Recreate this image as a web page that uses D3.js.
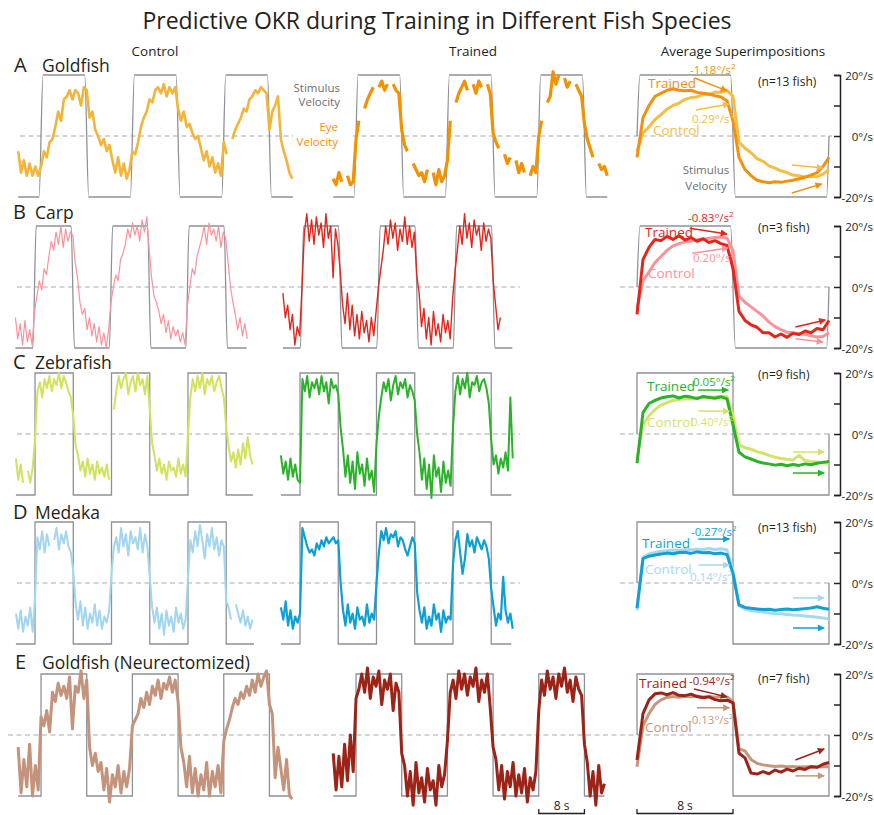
<!DOCTYPE html>
<html>
<head>
<meta charset="utf-8">
<script src="https://cdn.jsdelivr.net/npm/d3@7"></script>
<style>
body { margin: 0; background: #fff; }
svg { display: block; }
text { font-family: "Open Sans", sans-serif; fill: #231f20; }
</style>
</head>
<body>
<script>
// ---- data (velocities in deg/s, samples every 0.5 s) ----
var rowLetters = ["A", "B", "C", "D", "E"];
var speciesNames = ["Goldfish", "Carp", "Zebrafish", "Medaka", "Goldfish (Neurectomized)"];
var fishCounts = ["(n=13 fish)", "(n=3 fish)", "(n=9 fish)", "(n=13 fish)", "(n=7 fish)"];
var slopesTrained = ["-1.18", "-0.83", "0.05", "-0.27", "-0.94"];
var slopesControl = ["0.29", "0.20", "0.40", "0.14", "-0.13"];
var columnTitles = ["Control", "Trained", "Average Superimpositions"];

var dt = 0.5;
var stimStart = -20;
var stimEdges = [4, 12, 20, 28, 36, 44];
var avgStimT = [0, 0, 8, 8, 16, 16];
var avgStimV = [0, 20, 20, -20, -20, 0];
var yTicks = [-20, -10, 0, 10, 20];
var yLabelValues = [20, 0, -20];
var yLabels = ["20°/s", "0°/s", "-20°/s"];

var goldfishControl = [-5,-12,-8,-13,-9,-13,-10,-13, -10,-5,-7,-2,-1, 3,8,5,12,13, 15,12,15,14,10,16,
  15,6,8,2, 0,-3,-1,-5,-3, -8,-12,-7,-13,-9,-14,-11, -5,-6,-2,3, 6,8,12,11,15,
  16,14,17,13,16,14,16, 9,5,8,3,4, 1,-1,0, -4,-8,-5,-10,-7,-12,-9,-13, -2,-6,null,
  -1,2,4, 6,9,8,12,13, 15,14,16,15,14, 2,8,10,13, -1,-5,-8,-12,-14];
var goldfishTrained = [-14,-16,-12,-15,null,-13,-16,-15, -1,5,null,9,12, 14,16,null,16,18,15,17,null,17,15,14,
  2,-3,-5,null, -9,-11,-13, -12,-15,-11,null,-12,-16,-11,-15,-13, -8,5,null,11,14,
  16,18,15,null,17,14,18,16,null,17,14, 1,-2,-4,null, -6,-9,-7,null,-8,-12,-9,-12,null,-13,-10,-12,
  0,5,null,11,13, 21,17,20,null,19,16,18,null,17,15,13, 4,-1, -4,-7,null,-9,-11,-10,-13];
var carpControl = [-10,-17,-12,-19,-11,-18,-14,-19, -8,-3,2,-1,6,4, 10,15,12,18,14,20,13,19,15,18,
  17,8,3,-5,-9, -7,-14,-10,-16,-12,-18,-13,-19,-15,-20,-14, -5,0,4,2,9,11,
  14,19,16,21,17,20,15,22,18,23, 12,3,-3,-5, -8,-12,-9,-15,-11,-17,-13,-16,-14,-18,-15,-19,
  -6,0,6,4,10,13, 16,20,14,21,17,19,15,20,13,18,16, 8,0,-5, -9,-14,-10,-16,-12,-17];
var carpTrained = [-2,-10,-6,-14,-9,-19,-13,-16, 0, 18,24,15,22,14,23,17,21,13,24,16,20,3,19, 14,
  5,-6,-12, -2,-14,-6,-16,-9,-17,-8,-15,-11,-18,-10,-16, -8,0,6,
  12,20,14,22,16,21,12,19,15,23,14,20,13,18, 4, -2,-13,-7,-17,-10,-19,-8,-16,-12,-18,-9,-15,-11,-17,
  -4,5,12, 20,14,24,16,21,13,22,17,20,12,21,15,19,16, 2,-6,-14,-10];
var zebrafishControl = [-8,-15,-10,-16,null,-12,-16,-11, -2, 14,17,12,18,15,19,14,18,16,20,15,19,17,14,12,
  6,-4, -7,-12,-9,-14,-8,-13,-10,-15,-9,-13,-11,-14,-10,-15, null,8,
  14,19,15,18,20,13,17,19,14,20,16,18,13,19, 8,-3, -7,-12,-8,-13,-10,-15,-9,-12,-11,-14,-8,-13,-10,-14,
  0,12, 18,14,19,15,20,13,18,16,19,14,17,19,15,12, 2,-4,-9,-6,-11,-5,-10,-3,-8,-1,-7,-10];
var zebrafishTrained = [-7,-13,-9,-15,-8,-14,-10,-15, -16, 18,14,19,12,17,15,18,13,19,14,17,10,18,15,16,13,
  2, -5,-14,-7,-16,-9,-18,-6,-13,-10,-17,-8,-15,-12,-19, -3,6,
  12,17,14,18,11,16,19,13,17,15,18,12,16,14,11, 0, -6,-15,-8,-18,-10,-21,-7,-14,-11,-19,-9,-16,-12,-17,
  2,14, 19,13,18,15,20,12,17,16,19,14,17,18,15,10, -2, -10,-7,-13,-8,-11,-6,-12,12,-8];
var medakaControl = [-10,-15,-9,-16,-11,-14,-8,-16, -5, 15,11,17,10,16,12,null,14,18,11,16,13,17,12,10,
  4,-7, -12,-6,-14,-8,-15,-10,-13,-7,-14,-9,-15,-11,-13,-9, 3,12,
  15,10,18,12,16,9,17,13,15,11,18,10,16,12, 2,-8, -13,-8,-15,-10,-17,-9,-14,-11,-16,-8,-13,-10,-15,-12,
  2,14, 10,17,12,19,14,8,16,12,18,11,15,9,14,12, -6,-8,-12,null,-7,-10,-13,-9,-14,-11,-15,-12];
var medakaTrained = [-8,-12,-6,-14,-9,-15,-11,-13, -10, 18,15,12,10,11,9,13,11,14,12,15,13,14,15,13,14,
  0, -9,-14,-7,-13,-10,-15,-8,-12,-11,-14,-7,-13,-10,-12, 0,10,
  17,14,18,13,16,15,17,12,15,14,11,9,12,15,13, -3, -9,-13,-8,-15,-11,-14,-7,-12,-10,-16,-9,-13,-11,-12,
  6,14, 17,10,3,8,16,12,14,10,15,13,11,14,12,8, -2, -8,-14,-10,-12,2,-9,-13,-10,-15];
var neuroControl = [-4,-19,-8,-17,-3,-20,-10,-18, 6,3,8,1, 14,11,17,13,16,12,19,2,16,14,21,12,18,
  -4,-10,-6,-12, -9,-18,-11,-22,-13,-17,-10,-19,-12,-17,-11, 3,5,
  7,12,9,14,10,16,13,18,12,17,15,19,14,18, 11,-4, -9,-17,-7,-19,-11,-20,-13,-18,-9,-20,-12,-17,-10,-19,
  -2,2,5,9,12, 10,14,12,16,13,18,14,20,16,19,21, 10,7, -14,-4,-11,-18,-8,-20,-21];
var neuroTrained = [-6,-18,-7,-17,-3,-15,0,-12, 12, 15,20,14,22,12,19,16,21,10,18,15,20,8,17,14,
  -6, -10,-20,-12,-23,-9,-19,-14,-22,-11,-18,-15,-23,-10,-17,-13, -2,14,
  18,12,21,15,20,13,19,16,22,11,18,14,20,9, -4, -8,-18,-10,-21,-12,-17,-9,-20,-13,-19,-11,-22,-14,-18,-12,
  8, 18,13,21,15,19,12,20,16,22,14,18,11,19,15,13, -3, -9,-20,-12,-23,-10,-19,-16];

// averaged cycles, 0..16 s
var goldfishAvgControl = [-5,1,3,5.4,7,8.8,10,10.8,12,12.6,12.8,13.6,13.6,14.4,14.3,15,13,
  -2,-4,-5.5,-7.4,-8.3,-9.8,-10.5,-11.4,-12,-12.8,-13,-13.4,-13.2,-13.4,-12.5,-11];
var goldfishAvgTrained = [-7,6,10,13,14,15,15.5,15,14.8,15,14.3,14,13.8,13.2,12.8,11.5,5,
  -7,-11,-13,-14.5,-15,-15.3,-15,-15.2,-14.8,-14.5,-14,-13.5,-12.8,-12,-10,-7];
var carpAvgControl = [-7,2,5,8,10,12,13.5,14.2,14.8,15.1,15.5,15.7,16,16.2,16.4,16,12,
  -3,-5,-6.5,-8,-9.5,-11.5,-13,-14,-14.8,-15,-15.3,-15.5,-16,-16.4,-16.2,-15];
var carpAvgTrained = [-9,9,13,15.6,15.2,16.6,15.6,16.8,15.4,16.2,15,15.8,14.6,15.2,14.2,13.6,6,
  -8,-11,-12.4,-13.2,-15,-15,-16.4,-15.4,-16.5,-15.2,-15.6,-14.4,-15,-13.6,-14,-11];
var zebrafishAvgControl = [-8,3,6,8,9.5,10.3,11,11.3,11.6,11.5,11.9,12,12.2,12.1,12.4,12.3,6,
  -3.5,-4.5,-5,-5.8,-6.3,-7,-7.6,-8,-8.3,-8.5,-7,-8.7,-9,-9.2,-9.4,-9.6];
var zebrafishAvgTrained = [-9.6,7,10,11,11.8,12.2,12.5,11.8,12.4,12.1,11.6,12.3,12,11.7,12.2,11.5,3,
  -6,-7.5,-8.2,-9,-9.5,-9.8,-10.2,-9.9,-10.4,-10,-10.3,-9.8,-10.1,-9.6,-9.3,-9];
var medakaAvgControl = [-9,8.5,9.5,10,10.4,10.6,10.8,10.7,11,10.9,11.1,11,11.3,11,11.2,10.8,4,
  -7.5,-8.5,-9,-9.3,-9.5,-9.8,-10,-10.1,-10.3,-10.5,-10.6,-10.8,-11,-11.2,-11.5,-11.8];
var medakaAvgTrained = [-8.2,8,8.8,9.2,9.5,9.8,9.6,10,10.1,9.7,10.2,9.9,10,9.6,9.8,9.3,3,
  -7.2,-8,-8.3,-8.5,-8.7,-8.6,-8.9,-8.7,-8.5,-8.8,-8.6,-8.4,-8.2,-7.8,-8.3,-8.6];
var neuroAvgControl = [-10.4,3,7,10,11.5,12.3,12.6,12.4,12.7,12.5,12.8,12.5,12.6,12.4,12.7,12.5,11,
  -4.5,-5.2,-8,-9.3,-9.8,-10.1,-10.3,-10.2,-10.4,-10.3,-10.5,-10.4,-10.4,-10.5,-10.4,-10.4];
var neuroAvgTrained = [-8.2,7,11.5,13.5,13.8,13.2,13.9,13,12.9,13.4,12.6,12.2,12.5,11.6,11.2,11.4,10.5,
  -6,-7.5,-12.5,-12.8,-12,-12.7,-11.5,-12.2,-11.2,-11.8,-10.9,-11.3,-10.4,-10.6,-9.6,-9];

// trend arrows in average-panel units [t0, v0, t1, v1]: trained, control (plateau), then trained, control (second half)
var trendArrows = [
  [[4.8, 19, 7.5, 14.8], [4.9, 8.5, 7.7, 10.5], [12.9, -18.7, 15.4, -15.7], [12.9, -9.5, 15.5, -10.5]],
  [[4.4, 19.3, 7.5, 17.4], [4.6, 11.1, 7.6, 12.8], [13.2, -13.1, 15.7, -10.8], [13.2, -17, 15.5, -18]],
  [[5.1, 14.4, 7.6, 14.4], [5.1, 7.5, 7.7, 7.5], [13, -12.8, 15.6, -12.8], [13, -5.9, 15.6, -5.9]],
  [[5.1, 14.4, 7.7, 14.4], [5.1, 5.9, 7.7, 5.9], [13, -14.75, 15.6, -14.75], [13, -4.9, 15.6, -4.9]],
  [[4.75, 15.1, 7.5, 12.5], [5, 8.9, 7.7, 8.9], [13.2, -8.2, 15.6, -4.6], [13.2, -13.4, 15.6, -13.4]]
];

var traces = [
  [goldfishControl, goldfishTrained, goldfishAvgControl, goldfishAvgTrained],
  [carpControl, carpTrained, carpAvgControl, carpAvgTrained],
  [zebrafishControl, zebrafishTrained, zebrafishAvgControl, zebrafishAvgTrained],
  [medakaControl, medakaTrained, medakaAvgControl, medakaAvgTrained],
  [neuroControl, neuroTrained, neuroAvgControl, neuroAvgTrained]
];

// ---- layout ----
var width = 874, height = 815;
var colours = [
  {ctrl: "#f2b53a", trn: "#f39200", actrl: "#f4bd45", atrn: "#f4900c"},
  {ctrl: "#f8939c", trn: "#e1261c", actrl: "#f7939b", atrn: "#e2261c"},
  {ctrl: "#d2e25e", trn: "#2bb22b", actrl: "#d3e36a", atrn: "#2bb22b"},
  {ctrl: "#a2d6ef", trn: "#0ea0d4", actrl: "#a6d8f0", atrn: "#129fd3"},
  {ctrl: "#c4937b", trn: "#9b2317", actrl: "#c4977f", atrn: "#9b2317"}
];
var rowsLayout = [
  {top: 75, ctrl: [18.2, 5.71, 48.1], trn: [333.2, 5.71, 48], rounded: true, lw: [2.6, 3.2], name: [14, 42, -3], dash: [[20, 293], [353, 832]],
    lab: {trained: [648, 13], control: [653, 60], sT: [690, -1], sC: [692, 48], n: 11}},
  {top: 226, ctrl: [15.4, 4.78, 48.4], trn: [282.9, 4.78, 48], rounded: true, lw: [1.2, 1.4], name: [13, 35, -7], dash: [[17, 520], [620, 832]],
    lab: {trained: [645, 11], control: [648, 52], sT: [688, -4], sC: [693, 36], n: 6}},
  {top: 373, ctrl: [15.9, 4.78, 49.6], trn: [280.9, 4.78, 48.2], rounded: false, lw: [2, 2], name: [13, 35, -4], dash: [[17, 520], [620, 832]],
    lab: {trained: [647, 18], control: [647, 54], sT: [693, 13], sC: [691, 53], n: 6}},
  {top: 522, ctrl: [15.9, 4.78, 49.8], trn: [280.9, 4.78, 48.2], rounded: false, lw: [2, 2.2], name: [13, 35, -3], dash: [[17, 520], [620, 832]],
    lab: {trained: [642, 26], control: [645, 52], sT: [691, 14], sC: [690, 59], n: 10}},
  {top: 674, ctrl: [18.2, 5.71, 47.9], trn: [333.2, 5.71, 47.5], rounded: false, lw: [3, 3], name: [15, 42, -5], dash: [[8, 832]],
    lab: {trained: [639, 14], control: [645, 58], sT: [689, 11], sC: [688, 50], n: 9}}
];
var bandH = 122;
var stimColour = "#8d9298";

var svg = d3.select("body").append("svg").attr("width", width).attr("height", height);
var defs = svg.append("defs");

function markerFor(col) {
  var id = "ah" + col.replace("#", "");
  if (defs.select("#" + id).empty()) {
    defs.append("marker").attr("id", id).attr("viewBox", "0 0 10 10")
      .attr("refX", 9).attr("refY", 5).attr("markerWidth", 8).attr("markerHeight", 7)
      .attr("markerUnits", "userSpaceOnUse").attr("orient", "auto")
      .append("path").attr("d", "M0,0 L10,5 L0,10 Z").attr("fill", col);
  }
  return "url(#" + id + ")";
}

function stimPoints(end, r) {
  var pts = [[0, stimStart]], lvl = stimStart;
  stimEdges.forEach(function (e) {
    if (e < end) {
      pts.push([e - r, lvl]);
      lvl = -lvl;
      pts.push([e + r, lvl]);
    }
  });
  pts.push([end, lvl]);
  return pts;
}

function slopeText(g, x, y, val, col) {
  var t = g.append("text").attr("x", x).attr("y", y).attr("font-size", 11.5).style("fill", col);
  t.append("tspan").text(val + "°/s");
  t.append("tspan").attr("dy", -5).attr("font-size", 8).text("2");
}

// title and column headers
svg.append("text").attr("x", 437).attr("y", 29).attr("text-anchor", "middle")
  .attr("font-size", 23).text("Predictive OKR during Training in Different Fish Species");
[155, 473, 743].forEach(function (cx, i) {
  svg.append("text").attr("x", cx).attr("y", 56).attr("text-anchor", "middle")
    .attr("font-size", 13.5).text(columnTitles[i]);
});

rowsLayout.forEach(function (L, r) {
  var g = svg.append("g");
  var y = d3.scaleLinear().domain([-20, 20]).range([L.top + bandH, L.top]);
  var col = colours[r];

  // zero lines
  L.dash.forEach(function (d) {
    g.append("line").attr("x1", d[0]).attr("x2", d[1]).attr("y1", y(0)).attr("y2", y(0))
      .attr("stroke", "#a7a9ac").attr("stroke-width", 1).attr("stroke-dasharray", "5,3.5");
  });

  // row letter and species
  g.append("text").attr("x", L.name[0]).attr("y", L.top + L.name[2]).attr("font-size", 20).text(rowLetters[r]);
  g.append("text").attr("x", L.name[1]).attr("y", L.top + L.name[2]).attr("font-size", 17.5).text(speciesNames[r]);

  // control and trained raw panels
  [["ctrl", 0], ["trn", 1]].forEach(function (p) {
    var cfg = L[p[0]];
    var x = d3.scaleLinear().domain([0, 1]).range([cfg[0], cfg[0] + cfg[1]]);
    var stim = d3.line().x(function (d) { return x(d[0]); }).y(function (d) { return y(d[1]); })
      .curve(L.rounded ? d3.curveMonotoneX : d3.curveLinear);
    g.append("path").datum(stimPoints(cfg[2], L.rounded ? 0.35 : 0))
      .attr("d", stim).attr("fill", "none").attr("stroke", stimColour).attr("stroke-width", 1.3);

    var data = traces[r][p[1]].map(function (v, i) { return {t: i * dt, v: v}; });
    var eye = d3.line().defined(function (d) { return d.v !== null; })
      .x(function (d) { return x(d.t); }).y(function (d) { return y(d.v); });
    g.append("path").datum(data).attr("d", eye).attr("fill", "none")
      .attr("stroke", p[1] ? col.trn : col.ctrl).attr("stroke-width", L.lw[p[1]])
      .attr("stroke-linejoin", "round");
  });

  // average panel
  var xa = d3.scaleLinear().domain([0, 16]).range([637, 829]);
  var aPts = avgStimT.map(function (t, i) { return [t, avgStimV[i]]; });
  if (L.rounded) aPts = [[0, 0], [0.25, 20], [7.8, 20], [8.2, -20], [15.8, -20], [16, 0]];
  g.append("path").datum(aPts)
    .attr("d", d3.line().x(function (d) { return xa(d[0]); }).y(function (d) { return y(d[1]); })
      .curve(L.rounded ? d3.curveMonotoneX : d3.curveLinear))
    .attr("fill", "none").attr("stroke", stimColour).attr("stroke-width", 1.3);

  [[2, col.actrl], [3, col.atrn]].forEach(function (p) {
    var data = traces[r][p[0]].map(function (v, i) { return {t: i * dt, v: v}; });
    g.append("path").datum(data)
      .attr("d", d3.line().x(function (d) { return xa(d.t); }).y(function (d) { return y(d.v); }))
      .attr("fill", "none").attr("stroke", p[1]).attr("stroke-width", 3).attr("stroke-linejoin", "round");
  });

  trendArrows[r].forEach(function (a, i) {
    var c = (i % 2 === 0) ? col.atrn : col.actrl;
    g.append("line").attr("x1", xa(a[0])).attr("y1", y(a[1])).attr("x2", xa(a[2])).attr("y2", y(a[3]))
      .attr("stroke", c).attr("stroke-width", 1.5).attr("marker-end", markerFor(c));
  });

  g.append("text").attr("x", L.lab.trained[0]).attr("y", L.top + L.lab.trained[1]).attr("font-size", 13.5)
    .style("fill", col.atrn).text("Trained");
  g.append("text").attr("x", L.lab.control[0]).attr("y", L.top + L.lab.control[1]).attr("font-size", 13.5)
    .style("fill", col.actrl).text("Control");
  slopeText(g, L.lab.sT[0], L.top + L.lab.sT[1], slopesTrained[r], col.atrn);
  slopeText(g, L.lab.sC[0], L.top + L.lab.sC[1], slopesControl[r], col.actrl);
  g.append("text").attr("x", 758).attr("y", L.top + L.lab.n).attr("font-size", 12).text(fishCounts[r]);

  // right axis
  var ax = g.append("g").attr("transform", "translate(840,0)")
    .call(d3.axisLeft(y).tickValues(yTicks).tickSize(6).tickSizeOuter(6).tickFormat(""));
  ax.selectAll("path, line").attr("stroke", "#231f20").attr("stroke-width", 1.5);
  yLabelValues.forEach(function (v, i) {
    g.append("text").attr("x", 873).attr("y", y(v) + 5).attr("text-anchor", "end")
      .attr("font-size", 11.5).text(yLabels[i]);
  });
});

// row A annotations
var top0 = rowsLayout[0].top;
[["Stimulus", 17], ["Velocity", 31]].forEach(function (s) {
  svg.append("text").attr("x", 340).attr("y", top0 + s[1]).attr("text-anchor", "end")
    .attr("font-size", 11.5).style("fill", "#6d6e71").text(s[0]);
});
[["Eye", 56], ["Velocity", 71]].forEach(function (s) {
  svg.append("text").attr("x", 338).attr("y", top0 + s[1]).attr("text-anchor", "end")
    .attr("font-size", 11.5).style("fill", "#f39200").text(s[0]);
});
[["Stimulus", 99], ["Velocity", 115]].forEach(function (s) {
  svg.append("text").attr("x", 706).attr("y", top0 + s[1]).attr("text-anchor", "middle")
    .attr("font-size", 11.5).style("fill", "#6d6e71").text(s[0]);
});

// 8 s scale bars
var sb = [[rowsLayout[4].trn[0] + 36 * rowsLayout[4].trn[1], rowsLayout[4].trn[1]], [637, 12]];
sb.forEach(function (s) {
  var x = d3.scaleLinear().domain([0, 1]).range([s[0], s[0] + s[1]]);
  svg.append("path").attr("d", "M" + x(0) + ",809V813.5H" + x(8) + "V809")
    .attr("fill", "none").attr("stroke", "#231f20").attr("stroke-width", 1.3);
  svg.append("text").attr("x", x(4)).attr("y", 810).attr("text-anchor", "middle")
    .attr("font-size", 12).text("8 s");
});
</script>
</body>
</html>
